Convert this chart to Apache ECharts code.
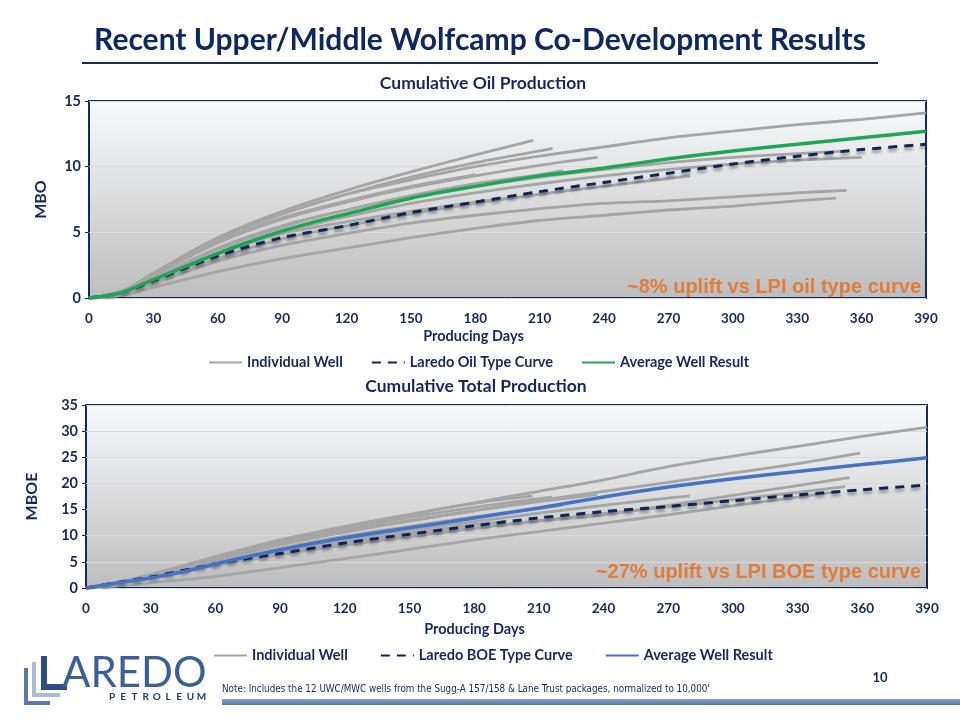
<!DOCTYPE html>
<html><head><meta charset="utf-8">
<script src="https://cdn.jsdelivr.net/npm/echarts@6/dist/echarts.min.js"></script>
<style>html,body{margin:0;padding:0;background:#fff}#c{width:960px;height:720px}</style>
</head><body><div id="c"></div>
<script>
// ---------- DATA (days, cumulative MBO / MBOE) ----------
const xTicks = [0,30,60,90,120,150,180,210,240,270,300,330,360,390];

const oilWell1  = [[0,0],[15,0.5],[30,1.8],[60,4.5],[90,6.4],[120,7.9],[150,9.0],[180,10.0],[210,10.8],[240,11.5],[270,12.2],[300,12.7],[330,13.2],[360,13.6],[390,14.1]];
const oilWell2  = [[0,0],[15,0.5],[30,1.9],[60,4.6],[90,6.6],[120,8.2],[150,9.6],[180,10.9],[207,12.0]];
const oilWell3  = [[0,0],[15,0.5],[30,1.8],[60,4.5],[90,6.4],[120,7.9],[150,9.2],[180,10.3],[210,11.2],[216,11.4]];
const oilWell4  = [[0,0],[15,0.4],[30,1.7],[60,4.2],[90,6.0],[120,7.3],[150,8.4],[180,9.3],[210,10.1],[237,10.7]];
const oilWell5  = [[0,0],[15,0.4],[30,1.5],[60,3.8],[90,5.5],[120,6.7],[150,7.8],[180,8.7],[210,9.4],[221,9.7]];
const oilWell6  = [[0,0],[15,0.4],[30,1.5],[60,3.7],[90,5.4],[120,6.7],[150,7.7],[180,8.5],[210,9.2],[240,9.8],[270,10.3],[300,10.7],[330,11.0],[354,11.2]];
const oilWell7  = [[0,0],[15,0.3],[30,1.3],[60,3.3],[90,5.0],[120,6.2],[150,7.2],[180,8.0],[210,8.7],[240,9.3],[270,9.8],[300,10.2],[330,10.5],[360,10.7]];
const oilWell8  = [[0,0],[15,0.3],[30,1.1],[60,2.8],[90,4.0],[120,4.9],[150,5.7],[180,6.3],[210,6.8],[240,7.2],[270,7.4],[300,7.7],[330,8.0],[353,8.2]];
const oilWell9  = [[0,0],[15,0.2],[30,0.8],[60,2.0],[90,3.0],[120,3.8],[150,4.6],[180,5.3],[210,5.9],[240,6.3],[270,6.7],[300,7.0],[330,7.4],[348,7.6]];
const oilWell10 = [[0,0],[15,0.4],[30,1.7],[60,4.3],[90,6.1],[120,7.4],[150,8.5],[180,9.4]];
const oilWell11 = [[0,0],[15,0.4],[30,1.4],[60,3.4],[90,4.9],[120,5.8],[150,6.6],[180,7.3],[195,7.6]];
const oilWell12 = [[0,0],[15,0.3],[30,1.2],[60,3.0],[90,4.5],[120,5.5],[150,6.4],[180,7.2],[210,7.9],[240,8.5],[270,9.1],[280,9.3]];
const oilTypeCurve = [[0,0],[15,0.4],[30,1.3],[60,3.2],[90,4.6],[120,5.5],[150,6.5],[180,7.3],[210,8.1],[240,8.8],[270,9.5],[300,10.2],[330,10.8],[360,11.3],[390,11.7]];
const oilAverage = [[0,0],[15,0.4],[30,1.4],[45,2.4],[60,3.4],[75,4.3],[90,5.1],[105,5.8],[120,6.4],[150,7.6],[180,8.5],[210,9.3],[240,9.9],[270,10.6],[300,11.2],[330,11.7],[360,12.2],[390,12.7]];

const boeWell1  = [[0,0],[15,0.9],[30,2.4],[60,5.5],[90,8.7],[120,11.5],[150,14.0],[180,16.3],[210,18.5],[240,20.7],[270,23.2],[300,25.2],[330,27.1],[360,29.0],[390,30.7]];
const boeWell2  = [[0,0],[15,1.1],[30,2.6],[60,6.0],[90,9.2],[120,11.8],[150,14.1],[180,16.2],[207,17.6]];
const boeWell3  = [[0,0],[15,1.0],[30,2.5],[60,5.8],[90,8.8],[120,11.3],[150,13.5],[180,15.4],[210,17.1],[216,17.4]];
const boeWell4  = [[0,0],[15,1.0],[30,2.3],[60,5.4],[90,8.3],[120,10.8],[150,12.9],[180,14.8],[210,16.5],[237,17.9]];
const boeWell5  = [[0,0],[15,0.9],[30,2.1],[60,5.0],[90,7.6],[120,9.9],[150,11.8],[180,13.6],[210,15.2],[221,15.8]];
const boeWell6  = [[0,0],[15,0.8],[30,2.0],[60,4.3],[90,6.4],[120,8.2],[150,9.8],[180,11.4],[210,12.8],[240,14.0],[270,15.8],[300,17.7],[330,19.6],[354,21.1]];
const boeWell7  = [[0,0],[15,1.0],[30,2.4],[60,5.4],[90,8.3],[120,10.7],[150,12.8],[180,14.8],[210,16.7],[240,18.5],[270,20.2],[300,22.0],[330,23.8],[359,25.8]];
const boeWell8  = [[0,0],[15,0.8],[30,2.0],[60,4.5],[90,6.6],[120,8.4],[150,10.0],[180,11.5],[210,12.9],[240,14.2],[270,15.5],[300,16.9],[330,18.3],[352,19.4]];
const boeWell9  = [[0,0],[15,0.4],[30,1.0],[60,2.2],[90,3.9],[120,5.6],[150,7.4],[180,9.2],[210,10.8],[240,12.4],[270,14.0],[300,15.7],[330,17.4],[348,18.4]];
const boeWell10 = [[0,0],[15,1.0],[30,2.4],[60,5.6],[90,8.5],[120,10.9],[150,12.9],[180,14.7]];
const boeWell11 = [[0,0],[15,0.8],[30,2.0],[60,4.5],[90,6.8],[120,8.8],[150,10.5],[180,12.1],[195,12.8]];
const boeWell12 = [[0,0],[15,0.9],[30,2.1],[60,4.8],[90,7.2],[120,9.2],[150,11.0],[180,12.7],[210,14.3],[240,15.8],[270,17.2],[280,17.6]];
const boeTypeCurve = [[0,0],[15,1.1],[30,2.1],[60,4.6],[90,6.6],[120,8.6],[150,10.3],[180,11.9],[210,13.4],[240,14.6],[270,15.6],[300,16.7],[330,17.8],[360,18.8],[390,19.7]];
const boeAverage = [[0,0],[15,1.0],[30,1.9],[45,3.1],[60,4.6],[75,6.0],[90,7.3],[105,8.5],[120,9.6],[150,11.5],[180,13.4],[210,15.3],[240,17.4],[270,19.3],[300,20.9],[330,22.3],[360,23.6],[390,24.9]];

const oilWells = [oilWell1,oilWell2,oilWell3,oilWell4,oilWell5,oilWell6,oilWell7,oilWell8,oilWell9,oilWell10,oilWell11,oilWell12];
const boeWells = [boeWell1,boeWell2,boeWell3,boeWell4,boeWell5,boeWell6,boeWell7,boeWell8,boeWell9,boeWell10,boeWell11,boeWell12];

// ---------- STYLE ----------
const NAVY = '#142a5c';
const FONT = 'Lato, "Open Sans", sans-serif';
const GRAY = '#a5a5a5';
const plotBg = {type:'linear',x:0,y:0,x2:0,y2:1,colorStops:[{offset:0,color:'#f9fafc'},{offset:1,color:'#bdbdbd'}]};

function xAxisCfg(gridIndex, gap, shift){
  return {type:'value', gridIndex, min:0, max:390, interval:30,
    axisLine:{show:false}, axisTick:{show:false}, splitLine:{show:false},
    axisLabel:{color:NAVY, fontFamily:FONT, fontWeight:'bold', fontSize:13.5, margin:14},
    name:'Producing Days', nameLocation:'middle', nameGap:gap,
    nameTextStyle:{color:NAVY, fontFamily:FONT, fontWeight:'bold', fontSize:14.5, padding:[0,shift,0,0]}};
}
function yAxisCfg(gridIndex, max, name, gap){
  return {type:'value', gridIndex, min:0, max, interval:5,
    axisLine:{show:false}, axisTick:{show:true, length:4, lineStyle:{color:NAVY}},
    splitLine:{show:true, lineStyle:{color:'#dadada', width:1}},
    axisLabel:{color:NAVY, fontFamily:FONT, fontWeight:'bold', fontSize:14.5, margin:8},
    name, nameLocation:'middle', nameRotate:90, nameGap:gap,
    nameTextStyle:{color:NAVY, fontFamily:FONT, fontWeight:'bold', fontSize:16}};
}
function wellSeries(d, name, ax){
  return {type:'line', name, xAxisIndex:ax, yAxisIndex:ax, data:d, symbol:'none', smooth:0.3,
    lineStyle:{color:GRAY, width:2.8}, itemStyle:{color:GRAY}, z:2, silent:true};
}
function typeSeries(d, name, ax){
  return {type:'line', name, xAxisIndex:ax, yAxisIndex:ax, data:d, symbol:'none', smooth:0.3,
    lineStyle:{color:'#0e2657', width:3, type:[9,7], shadowColor:'rgba(0,0,0,0.35)', shadowBlur:3, shadowOffsetY:3},
    itemStyle:{color:'#0e2657'}, z:4, silent:true};
}
function avgSeries(d, name, ax, color){
  return {type:'line', name, xAxisIndex:ax, yAxisIndex:ax, data:d, symbol:'none', smooth:0.3,
    lineStyle:{color, width:3.5}, itemStyle:{color}, z:5, silent:true};
}

const series = [];
oilWells.forEach(w => series.push(wellSeries(w, 'Individual Well', 0)));
series.push(typeSeries(oilTypeCurve, 'Laredo Oil Type Curve', 0));
series.push(avgSeries(oilAverage, 'Average Well Result', 0, '#1fa556'));
boeWells.forEach(w => series.push(wellSeries(w, 'Individual Well (BOE)', 1)));
series.push(typeSeries(boeTypeCurve, 'Laredo BOE Type Curve', 1));
series.push(avgSeries(boeAverage, 'Average Well Result (BOE)', 1, '#4472c4'));

const legendText = {color:NAVY, fontFamily:FONT, fontWeight:'bold', fontSize:14.5};
const petro = 'PETROLEUM'.split('');

const option = {
  animation:false,
  backgroundColor:'#ffffff',
  grid:[
    {left:89, right:34, top:101, height:197, show:true, backgroundColor:plotBg, borderColor:NAVY, borderWidth:2},
    {left:86, right:33, top:405, height:183, show:true, backgroundColor:plotBg, borderColor:NAVY, borderWidth:2}
  ],
  xAxis:[xAxisCfg(0, 31, 68), xAxisCfg(1, 34, 64)],
  yAxis:[yAxisCfg(0, 15, 'MBO', 40), yAxisCfg(1, 35, 'MBOE', 46)],
  legend:[
    {left:203, top:350, itemGap:28, itemWidth:33, itemHeight:10, textStyle:legendText, itemStyle:{opacity:0},
     data:['Individual Well','Laredo Oil Type Curve','Average Well Result']},
    {left:208, top:643, itemGap:32, itemWidth:33, itemHeight:10, textStyle:legendText, itemStyle:{opacity:0},
     formatter:n => n.replace(' (BOE)',''),
     data:['Individual Well (BOE)','Laredo BOE Type Curve','Average Well Result (BOE)']}
  ],
  series,
  graphic:[
    {type:'text', x:480, y:40, style:{text:'Recent Upper/Middle Wolfcamp Co-Development Results', font:'bold 30px '+FONT, fill:'#0f2862', align:'center', verticalAlign:'middle'}},
    {type:'line', shape:{x1:82,y1:63,x2:878,y2:63}, style:{stroke:'#1b2c5a', lineWidth:2}},
    {type:'text', x:483, y:83, style:{text:'Cumulative Oil Production', font:'bold 17.5px '+FONT, fill:NAVY, align:'center', verticalAlign:'middle'}},
    {type:'text', x:476, y:386, style:{text:'Cumulative Total Production', font:'bold 17.5px '+FONT, fill:NAVY, align:'center', verticalAlign:'middle'}},
    {type:'text', x:921, y:287, z:10, style:{text:'~8% uplift vs LPI oil type curve', font:'bold 20px "Liberation Sans", Arial, sans-serif', fill:'#e07d3a', align:'right', verticalAlign:'middle', shadowColor:'rgba(40,20,0,0.6)', shadowBlur:2, shadowOffsetX:1, shadowOffsetY:1}},
    {type:'text', x:921, y:572, z:10, style:{text:'~27% uplift vs LPI BOE type curve', font:'bold 20px "Liberation Sans", Arial, sans-serif', fill:'#e07d3a', align:'right', verticalAlign:'middle', shadowColor:'rgba(40,20,0,0.6)', shadowBlur:2, shadowOffsetX:1, shadowOffsetY:1}},
    // logo
    {type:'rect', shape:{x:24,y:668,width:4,height:37}, style:{fill:'#5a79ad'}},
    {type:'rect', shape:{x:24,y:701,width:26,height:4}, style:{fill:'#5a79ad'}},
    {type:'rect', shape:{x:32,y:662,width:4,height:35}, style:{fill:'#a9bcdb'}},
    {type:'rect', shape:{x:32,y:693,width:28,height:4}, style:{fill:'#a9bcdb'}},
    {type:'rect', shape:{x:41,y:656,width:6,height:34}, style:{fill:'#2f4d84'}},
    {type:'rect', shape:{x:41,y:684,width:26,height:6}, style:{fill:'#2f4d84'}},
    {type:'text', x:62, y:673, style:{text:'AREDO', font:'42px '+FONT, fill:'#3b5f98', align:'left', verticalAlign:'middle'}},
    ...petro.map((ch,i) => ({type:'text', x:112+i*11.2, y:697, style:{text:ch, font:'bold 10px '+FONT, fill:'#27406e', align:'center', verticalAlign:'middle'}})),
    {type:'text', x:222, y:689, style:{text:"Note: Includes the 12 UWC/MWC wells from the Sugg-A 157/158 & Lane Trust packages, normalized to 10,000'", font:'9.8px "Liberation Sans Narrow", "DejaVu Sans Condensed", sans-serif', fill:NAVY, align:'left', verticalAlign:'middle'}},
    {type:'text', x:880, y:678, style:{text:'10', font:'bold 13px '+FONT, fill:NAVY, align:'center', verticalAlign:'middle'}},
    {type:'rect', shape:{x:222,y:699,width:738,height:6}, style:{fill:{type:'linear',x:0,y:0,x2:0,y2:1,colorStops:[{offset:0,color:'#8aa4cc'},{offset:1,color:'#5676aa'}]}}}
  ]
};
const chart = echarts.init(document.getElementById('c'));
chart.setOption(option);
</script>
</body></html>
